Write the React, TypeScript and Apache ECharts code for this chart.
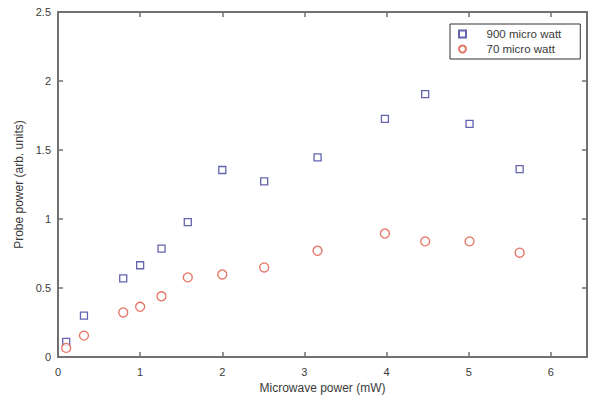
import React, { useEffect, useRef } from "react";
import * as echarts from "echarts";

const xValues = [0.1, 0.316, 0.794, 1.0, 1.26, 1.58, 2.0, 2.51, 3.16, 3.98, 4.47, 5.01, 5.62];
const series900 = [0.11, 0.3, 0.57, 0.665, 0.785, 0.977, 1.355, 1.272, 1.446, 1.725, 1.905, 1.69, 1.362];
const series70 = [0.066, 0.155, 0.323, 0.364, 0.44, 0.577, 0.598, 0.649, 0.77, 0.895, 0.838, 0.838, 0.756];
const xTicks = [0, 1, 2, 3, 4, 5, 6];
const yTicks = [0, 0.5, 1, 1.5, 2, 2.5];

const FONT = "Liberation Sans";
const AXIS_COLOR = "#707070";
const TEXT_COLOR = "#3a3a3a";
const BLUE = "#3c3c9c";
const RED = "#e0503c";
const X_MAX = 6.44;
const Y_MAX = 2.5;

export default function App() {
  const ref = useRef<HTMLDivElement>(null);
  useEffect(() => {
    if (!ref.current) return;
    const chart = echarts.init(ref.current, undefined, { renderer: "svg" });
    const mkLine = () => ({ show: true, onZero: false, lineStyle: { color: AXIS_COLOR, width: 2 } });
    const mkTick = () => ({ show: true, inside: true, length: 5, lineStyle: { color: AXIS_COLOR, width: 1.5 } });
    chart.setOption({
      animation: false,
      backgroundColor: "#ffffff",
      grid: { left: 58, right: 8, top: 12, bottom: 43 },
      legend: {
        orient: "vertical",
        left: 450,
        top: 24,
        padding: [4, 19, 4, 8],
        itemGap: 3,
        itemWidth: 38,
        itemHeight: 7,
        borderColor: "#333",
        borderWidth: 1,
        backgroundColor: "#fff",
        borderRadius: 0,
        symbolKeepAspect: true,
        textStyle: { fontFamily: FONT, fontSize: 11.5, color: TEXT_COLOR },
        data: [
          { name: "900 micro watt", icon: "path://M0,0H10V10H0Z" },
          { name: "70 micro watt", icon: "circle" },
        ],
      },
      xAxis: [
        {
          type: "value",
          min: 0,
          max: X_MAX,
          interval: 1,
          position: "bottom",
          splitLine: { show: false },
          axisLine: mkLine(),
          axisTick: mkTick(),
          name: "Microwave power (mW)",
          nameLocation: "middle",
          nameGap: 22,
          nameTextStyle: { fontFamily: FONT, fontSize: 12, color: TEXT_COLOR },
          axisLabel: {
            fontFamily: FONT,
            fontSize: 11,
            color: TEXT_COLOR,
            margin: 9,
            formatter: (v: number) => (xTicks.includes(v) ? String(v) : ""),
          },
        },
        {
          type: "value",
          min: 0,
          max: X_MAX,
          interval: 1,
          position: "top",
          splitLine: { show: false },
          axisLine: mkLine(),
          axisTick: mkTick(),
          axisLabel: { show: false },
        },
      ],
      yAxis: [
        {
          type: "value",
          min: 0,
          max: Y_MAX,
          interval: 0.5,
          position: "left",
          splitLine: { show: false },
          axisLine: mkLine(),
          axisTick: mkTick(),
          name: "Probe power (arb. units)",
          nameLocation: "middle",
          nameGap: 22,
          nameTextStyle: { fontFamily: FONT, fontSize: 12, color: TEXT_COLOR },
          axisLabel: {
            fontFamily: FONT,
            fontSize: 11,
            color: TEXT_COLOR,
            margin: 7,
            formatter: (v: number) => (yTicks.includes(v) ? String(v) : ""),
          },
        },
        {
          type: "value",
          min: 0,
          max: Y_MAX,
          interval: 0.5,
          position: "right",
          splitLine: { show: false },
          axisLine: mkLine(),
          axisTick: mkTick(),
          axisLabel: { show: false },
        },
      ],
      series: [
        {
          name: "900 micro watt",
          type: "scatter",
          symbol: "rect",
          symbolSize: 7,
          data: xValues.map((x, i) => [x, series900[i]]),
          itemStyle: { color: "#fff", borderColor: BLUE, borderWidth: 1.3 },
        },
        {
          name: "70 micro watt",
          type: "scatter",
          symbol: "circle",
          symbolSize: 9,
          data: xValues.map((x, i) => [x, series70[i]]),
          itemStyle: { color: "#fff", borderColor: RED, borderWidth: 1.3 },
        },
        {
          name: "frame",
          type: "scatter",
          xAxisIndex: 1,
          yAxisIndex: 1,
          symbolSize: 0,
          data: [[0, 0]],
        },
      ],
    });
    return () => chart.dispose();
  }, []);
  return <div ref={ref} style={{ width: 595, height: 400, position: "absolute", left: 0, top: 0 }} />;
}
